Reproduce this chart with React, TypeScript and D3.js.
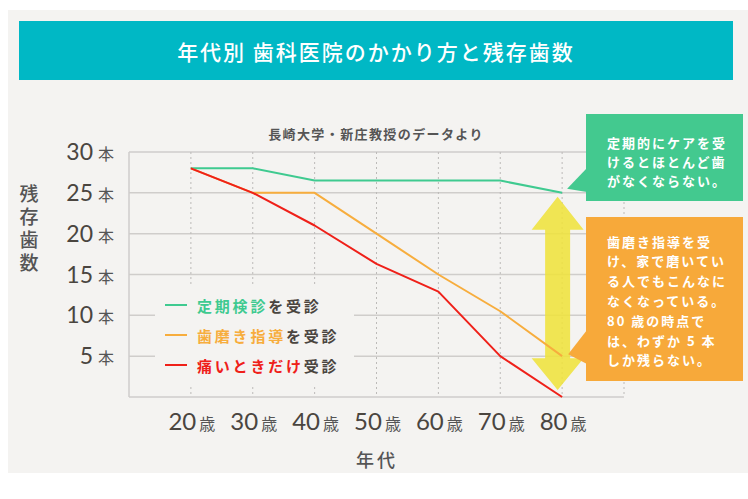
import React from "react";
import * as d3 from "d3";

const ages = [20, 30, 40, 50, 60, 70, 80];
const ageLabels = ["20", "30", "40", "50", "60", "70", "80"];
const checkupSeries = [28, 28, 26.5, 26.5, 26.5, 26.5, 25];
const brushingSeries = [28, 25, 25, 20, 15, 10.5, 5];
const painOnlySeries = [28, 25, 21, 16.3, 12.9, 5, 0];
const yTicks = [5, 10, 15, 20, 25, 30];
const gridX = [20, 30, 40, 50, 60, 70, 80, 90];

const greenCallout = ["定期的にケアを受", "けるとほとんど歯", "がなくならない。"];
const orangeCallout = [
  "歯磨き指導を受",
  "け、家で磨いてい",
  "る人でもこんなに",
  "なくなっている。",
  "80 歳の時点で",
  "は、わずか 5 本",
  "しか残らない。",
];

const GREEN = "#3fca90";
const ORANGE = "#f7ad3d";
const RED = "#ef2019";
const YELLOW = "#efe33c";
const TEAL = "#00b8c5";
const BG = "#f4f3f1";
const TEXT = "#4a453f";
const GRID = "#cfcdcb";
const JP = "'Noto Sans CJK JP', 'Noto Sans', sans-serif";
const NUM = "Lato, 'Noto Sans', sans-serif";

export default function App() {
  const x = d3.scaleLinear().domain([10, 90]).range([129, 624]);
  const y = d3.scaleLinear().domain([0, 30]).range([397, 152]);
  const line = d3
    .line<number>()
    .x((_, i) => x(ages[i]))
    .y((d) => y(d));

  const series = [
    { data: checkupSeries, color: GREEN },
    { data: brushingSeries, color: ORANGE },
    { data: painOnlySeries, color: RED },
  ];

  // arrow geometry from scales
  const ax = x(80) - 4.5;
  const topTip = y(25) + 4;
  const topBase = y(25) + 37;
  const botBase = y(5) + 2;
  const botTip = y(0) - 7;
  const hs = 12.5;
  const hh = 26;
  const arrowPts = [
    [ax, topTip],
    [ax + hh, topBase],
    [ax + hs, topBase],
    [ax + hs, botBase],
    [ax + hh, botBase],
    [ax, botTip],
    [ax - hh, botBase],
    [ax - hs, botBase],
    [ax - hs, topBase],
    [ax - hh, topBase],
  ]
    .map((p) => p.join(","))
    .join(" ");

  const legend = [
    { color: GREEN, colored: "定期検診", rest: "を受診", ly: 305 },
    { color: ORANGE, colored: "歯磨き指導", rest: "を受診", ly: 335 },
    { color: RED, colored: "痛いときだけ", rest: "受診", ly: 365 },
  ];

  return (
    <svg
      width={748}
      height={499}
      style={{ position: "absolute", left: 0, top: 0, background: "#fff" }}
    >
      <rect x={8} y={10} width={740} height={463} fill={BG} />
      <rect x={19} y={21} width={714} height={59} fill={TEAL} />
      <text
        x={376}
        y={51}
        textAnchor="middle"
        dominantBaseline="central"
        fill="#fff"
        fontFamily={JP}
        fontWeight={500}
        fontSize={21}
        letterSpacing={2}
      >
        年代別 歯科医院のかかり方と残存歯数
      </text>

      <text
        x={376}
        y={133}
        textAnchor="middle"
        dominantBaseline="central"
        fill="#555"
        fontFamily={JP}
        fontWeight={700}
        fontSize={13}
        letterSpacing={1.4}
      >
        長崎大学・新庄教授のデータより
      </text>

      {/* horizontal grid */}
      {yTicks.map((t) => (
        <line
          key={"h" + t}
          x1={x(10)}
          x2={x(90)}
          y1={y(t)}
          y2={y(t)}
          stroke={GRID}
          strokeWidth={1.5}
        />
      ))}
      {/* vertical dashed grid */}
      {gridX.map((g) => (
        <line
          key={"v" + g}
          x1={x(g)}
          x2={x(g)}
          y1={y(30)}
          y2={y(0)}
          stroke="#bcbab8"
          strokeWidth={1}
          strokeDasharray="2,3"
        />
      ))}
      {/* axes */}
      <line x1={x(10)} x2={x(10)} y1={y(30)} y2={y(0)} stroke={GRID} strokeWidth={1.5} />
      <line x1={x(10)} x2={x(90)} y1={y(0)} y2={y(0)} stroke={GRID} strokeWidth={1.5} />

      {/* legend background */}
      <rect x={155} y={287} width={199} height={98} fill={BG} />

      {/* arrow */}
      <polygon points={arrowPts} fill={YELLOW} opacity={0.88} />

      {/* series */}
      {series.map((s, i) => (
        <path
          key={i}
          d={line(s.data) || ""}
          fill="none"
          stroke={s.color}
          strokeWidth={2}
          strokeLinejoin="round"
        />
      ))}

      {/* callouts */}
      <rect x={586} y={114} width={157} height={87} fill="#43c98f" />
      <polygon
        points={`587,168 ${x(80) + 5},${y(25) - 4} 587,192`}
        fill="#43c98f"
      />
      {greenCallout.map((t, i) => (
        <text
          key={"g" + i}
          x={607}
          y={142 + i * 19}
          dominantBaseline="central"
          fill="#fff"
          fontFamily={JP}
          fontWeight={700}
          fontSize={13}
          letterSpacing={2}
        >
          {t}
        </text>
      ))}
      <rect x={586} y={217} width={157} height={164} fill="#f7a93a" />
      <polygon
        points={`587,330 ${x(80) + 6},${y(5) - 2} 587,364`}
        fill="#f7a93a"
      />
      {orangeCallout.map((t, i) => (
        <text
          key={"o" + i}
          x={607}
          y={241 + i * 19.8}
          dominantBaseline="central"
          fill="#fff"
          fontFamily={JP}
          fontWeight={700}
          fontSize={13}
          letterSpacing={2}
        >
          {t}
        </text>
      ))}

      {/* legend */}
      {legend.map((l, i) => (
        <g key={"l" + i}>
          <line x1={165} x2={187} y1={l.ly} y2={l.ly} stroke={l.color} strokeWidth={2} />
          <text
            x={197}
            y={l.ly}
            dominantBaseline="central"
            fontFamily={JP}
            fontWeight={700}
            fontSize={15}
            letterSpacing={2.8}
          >
            <tspan fill={l.color}>{l.colored}</tspan>
            <tspan fill={TEXT}>{l.rest}</tspan>
          </text>
        </g>
      ))}

      {/* y tick labels */}
      {yTicks.map((t) => (
        <text key={"yl" + t} x={114} y={y(t) + 8} textAnchor="end" fill={TEXT}>
          <tspan fontFamily={NUM} fontSize={23}>
            {t}
          </tspan>
          <tspan fontFamily={JP} fontSize={16} dx={5} fill="#555">
            本
          </tspan>
        </text>
      ))}

      {/* y title, vertical */}
      <text
        x={29}
        y={184}
        writingMode="tb"
        fill="#555"
        fontFamily={JP}
        fontWeight={500}
        fontSize={19}
        letterSpacing={4}
      >
        残存歯数
      </text>

      {/* x tick labels */}
      {ages.map((a, i) => (
        <text key={"xl" + a} x={x(a) + 1} y={430} textAnchor="middle" fill={TEXT}>
          <tspan fontFamily={NUM} fontSize={24}>
            {ageLabels[i]}
          </tspan>
          <tspan fontFamily={JP} fontSize={16} dx={3} fill="#555">
            歳
          </tspan>
        </text>
      ))}

      <text
        x={377}
        y={459}
        textAnchor="middle"
        dominantBaseline="central"
        fill="#555"
        fontFamily={JP}
        fontWeight={500}
        fontSize={18}
        letterSpacing={3}
      >
        年代
      </text>
    </svg>
  );
}
